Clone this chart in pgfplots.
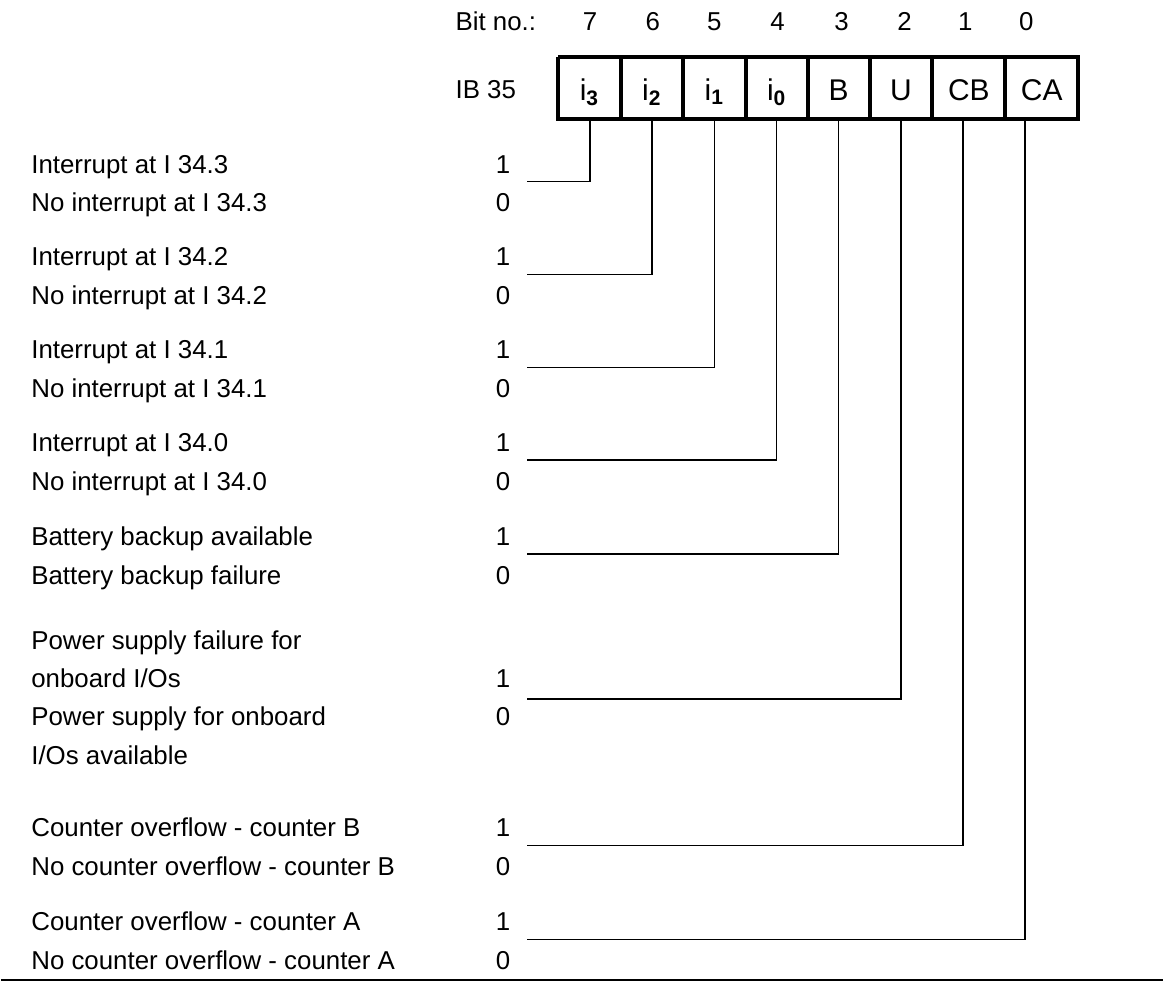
\documentclass[border=0pt]{standalone}
\usepackage{fontspec}
\setmainfont{Liberation Sans}
\usepackage{pgfplots}
\pgfplotsset{compat=1.18}
\newcommand{\lbl}{\fontsize{12.95}{15}\selectfont}
\newcommand{\bxl}{\fontsize{15}{18}\selectfont}
\begin{document}
\begin{tikzpicture}
\begin{axis}[width=582pt, height=491.5pt, scale only axis,
  xmin=0, xmax=1164, ymin=0, ymax=983, y dir=reverse,
  hide axis, clip=false]
% extent
\addplot[draw=none] coordinates {(0,0) (1164,983)};
% register box
\addplot[black, line width=2pt] coordinates {(558,57) (1079,57) (1079,119) (558,119) (558,57)};
\addplot[black, line width=2pt] coordinates {(621,57) (621,119)};
\addplot[black, line width=2pt] coordinates {(683,57) (683,119)};
\addplot[black, line width=2pt] coordinates {(746,57) (746,119)};
\addplot[black, line width=2pt] coordinates {(808,57) (808,119)};
\addplot[black, line width=2pt] coordinates {(870,57) (870,119)};
\addplot[black, line width=2pt] coordinates {(933,57) (933,119)};
\addplot[black, line width=2pt] coordinates {(1006,57) (1006,119)};
% leader lines
\addplot[black, line width=0.8pt] coordinates {(527,182) (590,182) (590,119)};
\addplot[black, line width=0.8pt] coordinates {(527,275) (652.3,275) (652.3,119)};
\addplot[black, line width=0.8pt] coordinates {(527,368) (714.6,368) (714.6,119)};
\addplot[black, line width=0.8pt] coordinates {(527,461) (776.9,461) (776.9,119)};
\addplot[black, line width=0.8pt] coordinates {(527,555) (839.1,555) (839.1,119)};
\addplot[black, line width=0.8pt] coordinates {(527,700) (901.4,700) (901.4,119)};
\addplot[black, line width=0.8pt] coordinates {(527,847) (963.7,847) (963.7,119)};
\addplot[black, line width=0.8pt] coordinates {(527,941) (1026,941) (1026,119)};
% bottom rule
\addplot[black, line width=1pt] coordinates {(0,981.5) (1164,981.5)};
% header
\node[anchor=base west, inner sep=0, font=\lbl] at (axis cs:455,31) {Bit no.:};
\node[anchor=base, inner sep=0, font=\lbl] at (axis cs:590,31) {7};
\node[anchor=base, inner sep=0, font=\lbl] at (axis cs:653,31) {6};
\node[anchor=base, inner sep=0, font=\lbl] at (axis cs:714.6,31) {5};
\node[anchor=base, inner sep=0, font=\lbl] at (axis cs:778,31) {4};
\node[anchor=base, inner sep=0, font=\lbl] at (axis cs:842,31) {3};
\node[anchor=base, inner sep=0, font=\lbl] at (axis cs:905,31) {2};
\node[anchor=base, inner sep=0, font=\lbl] at (axis cs:966,31) {1};
\node[anchor=base, inner sep=0, font=\lbl] at (axis cs:1027,31) {0};
\node[anchor=base west, inner sep=0, font=\lbl] at (axis cs:455,99) {IB 35};
% box labels
\node[anchor=base, inner sep=0, font=\bxl] at (axis cs:589.5,100.5) {i\textsubscript{\textbf{3}}};
\node[anchor=base, inner sep=0, font=\bxl] at (axis cs:652,100.5) {i\textsubscript{\textbf{2}}};
\node[anchor=base, inner sep=0, font=\bxl] at (axis cs:714.5,100.5) {i\textsubscript{\textbf{1}}};
\node[anchor=base, inner sep=0, font=\bxl] at (axis cs:777,100.5) {i\textsubscript{\textbf{0}}};
\node[anchor=base, inner sep=0, font=\bxl] at (axis cs:839,100.5) {B};
\node[anchor=base, inner sep=0, font=\bxl] at (axis cs:901.5,100.5) {U};
\node[anchor=base, inner sep=0, font=\bxl] at (axis cs:969.5,100.5) {CB};
\node[anchor=base, inner sep=0, font=\bxl] at (axis cs:1042.5,100.5) {CA};
% left labels
\node[anchor=base west, inner sep=0, font=\lbl] at (axis cs:30,174) {Interrupt at I 34.3};
\node[anchor=base west, inner sep=0, font=\lbl] at (axis cs:30,212) {No interrupt at I 34.3};
\node[anchor=base west, inner sep=0, font=\lbl] at (axis cs:30,266) {Interrupt at I 34.2};
\node[anchor=base west, inner sep=0, font=\lbl] at (axis cs:30,305) {No interrupt at I 34.2};
\node[anchor=base west, inner sep=0, font=\lbl] at (axis cs:30,359) {Interrupt at I 34.1};
\node[anchor=base west, inner sep=0, font=\lbl] at (axis cs:30,398) {No interrupt at I 34.1};
\node[anchor=base west, inner sep=0, font=\lbl] at (axis cs:30,452) {Interrupt at I 34.0};
\node[anchor=base west, inner sep=0, font=\lbl] at (axis cs:30,491) {No interrupt at I 34.0};
\node[anchor=base west, inner sep=0, font=\lbl] at (axis cs:30,546) {Battery backup available};
\node[anchor=base west, inner sep=0, font=\lbl] at (axis cs:30,586) {Battery backup failure};
\node[anchor=base west, inner sep=0, font=\lbl] at (axis cs:30,651) {Power supply failure for};
\node[anchor=base west, inner sep=0, font=\lbl] at (axis cs:30,689) {onboard I/Os};
\node[anchor=base west, inner sep=0, font=\lbl] at (axis cs:30,727) {Power supply for onboard};
\node[anchor=base west, inner sep=0, font=\lbl] at (axis cs:30,766) {I/Os available};
\node[anchor=base west, inner sep=0, font=\lbl] at (axis cs:30,838) {Counter overflow - counter B};
\node[anchor=base west, inner sep=0, font=\lbl] at (axis cs:30,877) {No counter overflow - counter B};
\node[anchor=base west, inner sep=0, font=\lbl] at (axis cs:30,932) {Counter overflow - counter A};
\node[anchor=base west, inner sep=0, font=\lbl] at (axis cs:30,971) {No counter overflow - counter A};
% 1/0 column
\node[anchor=base, inner sep=0, font=\lbl] at (axis cs:503,174) {1};
\node[anchor=base, inner sep=0, font=\lbl] at (axis cs:503,212) {0};
\node[anchor=base, inner sep=0, font=\lbl] at (axis cs:503,266) {1};
\node[anchor=base, inner sep=0, font=\lbl] at (axis cs:503,305) {0};
\node[anchor=base, inner sep=0, font=\lbl] at (axis cs:503,359) {1};
\node[anchor=base, inner sep=0, font=\lbl] at (axis cs:503,398) {0};
\node[anchor=base, inner sep=0, font=\lbl] at (axis cs:503,452) {1};
\node[anchor=base, inner sep=0, font=\lbl] at (axis cs:503,491) {0};
\node[anchor=base, inner sep=0, font=\lbl] at (axis cs:503,546) {1};
\node[anchor=base, inner sep=0, font=\lbl] at (axis cs:503,586) {0};
\node[anchor=base, inner sep=0, font=\lbl] at (axis cs:503,689) {1};
\node[anchor=base, inner sep=0, font=\lbl] at (axis cs:503,727) {0};
\node[anchor=base, inner sep=0, font=\lbl] at (axis cs:503,838) {1};
\node[anchor=base, inner sep=0, font=\lbl] at (axis cs:503,877) {0};
\node[anchor=base, inner sep=0, font=\lbl] at (axis cs:503,932) {1};
\node[anchor=base, inner sep=0, font=\lbl] at (axis cs:503,971) {0};
\end{axis}
\end{tikzpicture}
\end{document}
